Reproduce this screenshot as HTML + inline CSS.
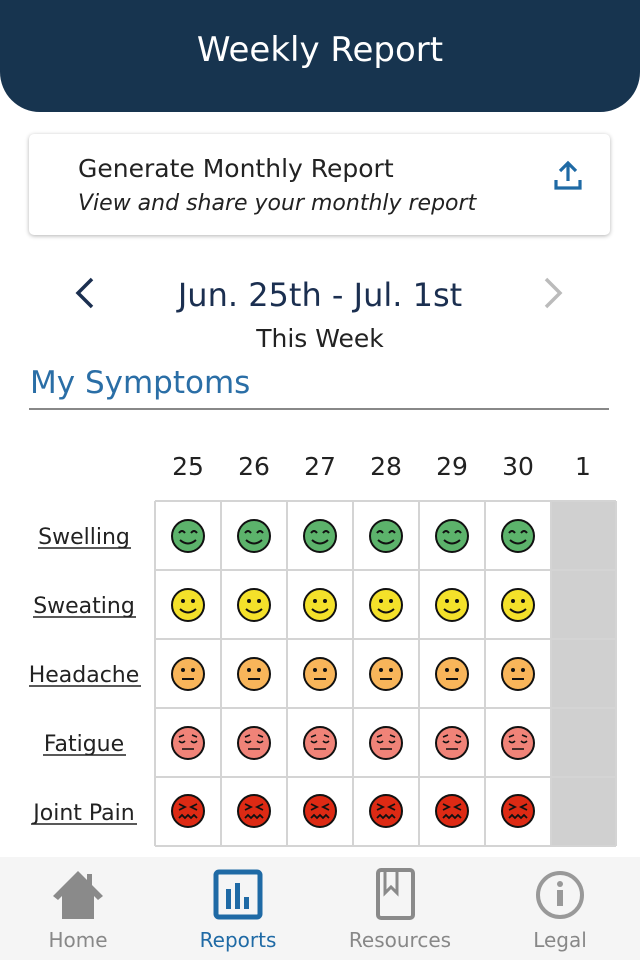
<!DOCTYPE html>
<html><head><meta charset="utf-8"><style>
body{margin:0;width:640px;height:960px;background:#fff;font-family:"DejaVu Sans","Liberation Sans",sans-serif;position:relative;overflow:hidden}
.a{position:absolute;white-space:nowrap}
</style></head><body>
<div class="a" style="left:0;top:0;width:640px;height:112px;background:#17344f;border-radius:0 0 40px 40px"></div>
<div class="a" style="left:0;width:640px;top:30px;text-align:center;color:#fff;font-size:34px">Weekly Report</div>
<div class="a" style="left:29px;top:134px;width:581px;height:101px;background:#fff;border-radius:5px;box-shadow:0 1px 4px rgba(0,0,0,0.3)"></div>
<div class="a" style="left:78px;top:154px;font-size:25px;color:#222">Generate Monthly Report</div>
<div class="a" style="left:78px;top:191px;font-size:22px;font-style:italic;color:#222">View and share your monthly report</div>
<svg class="a" style="left:552px;top:160px" width="32" height="32" viewBox="0 0 32 32"><path d="M16 3V21M8 11L16 3L24 11M4 20V28H28V20" fill="none" stroke="#1f6aa5" stroke-width="3.2"/></svg>
<svg class="a" style="left:70px;top:276px" width="28" height="36"><path d="M22 3L8 17L22 31" fill="none" stroke="#1b2f50" stroke-width="3.5"/></svg>
<svg class="a" style="left:540px;top:276px" width="28" height="36"><path d="M6 3L20 17L6 31" fill="none" stroke="#bbb" stroke-width="3.5"/></svg>
<div class="a" style="left:0;width:640px;top:276px;text-align:center;font-size:32px;color:#1b2f50">Jun. 25th - Jul. 1st</div>
<div class="a" style="left:0;width:640px;top:324px;text-align:center;font-size:25px;color:#222">This Week</div>
<div class="a" style="left:30px;top:365px;font-size:31px;color:#2a6ea6">My Symptoms</div>
<div class="a" style="left:29px;top:408px;width:580px;height:2px;background:#888"></div>
<svg class="a" style="left:0;top:440px" width="640" height="420">
<g font-family="DejaVu Sans,Liberation Sans,sans-serif" font-size="25" fill="#222" text-anchor="middle">
<text x="188" y="35">25</text><text x="254" y="35">26</text><text x="320" y="35">27</text><text x="386" y="35">28</text><text x="452" y="35">29</text><text x="518" y="35">30</text><text x="583" y="35">1</text>
</g>
<g font-family="DejaVu Sans,Liberation Sans,sans-serif" font-size="22" fill="#222" text-anchor="middle">
<text x="84" y="104">Swelling</text><text x="84" y="173">Sweating</text><text x="84" y="242">Headache</text><text x="84" y="311">Fatigue</text><text x="84" y="380">Joint Pain</text>
</g>
<g fill="none" stroke="#222" stroke-width="1.5">
<line x1="38" y1="108" x2="131" y2="108"/><line x1="33" y1="177" x2="136" y2="177"/><line x1="29" y1="246" x2="141" y2="246"/><line x1="43" y1="315" x2="126" y2="315"/><line x1="31" y1="384" x2="137" y2="384"/>
</g>
<rect x="551" y="61" width="65" height="345" fill="#d0d0d0"/>
<g stroke="#d4d4d4" stroke-width="2">
<line x1="155" y1="61" x2="616" y2="61"/><line x1="155" y1="130" x2="616" y2="130"/><line x1="155" y1="199" x2="616" y2="199"/><line x1="155" y1="268" x2="616" y2="268"/><line x1="155" y1="337" x2="616" y2="337"/><line x1="155" y1="406" x2="616" y2="406"/>
<line x1="155" y1="61" x2="155" y2="406"/><line x1="221" y1="61" x2="221" y2="406"/><line x1="287" y1="61" x2="287" y2="406"/><line x1="353" y1="61" x2="353" y2="406"/><line x1="419" y1="61" x2="419" y2="406"/><line x1="485" y1="61" x2="485" y2="406"/><line x1="551" y1="61" x2="551" y2="406"/><line x1="616" y1="61" x2="616" y2="406"/>
</g>
<defs>
<g id="g1"><circle r="16" fill="#5cb36b" stroke="#111" stroke-width="2"/><path d="M-9-3Q-6-7-3-3M3-3Q6-7 9-3M-8 4Q0 11 8 4" fill="none" stroke="#111" stroke-width="2"/></g>
<g id="g2"><circle r="16" fill="#f4e12a" stroke="#111" stroke-width="2"/><circle cx="-5" cy="-4" r="2" fill="#111"/><circle cx="5" cy="-4" r="2" fill="#111"/><path d="M-8 4Q0 11 8 4" fill="none" stroke="#111" stroke-width="2"/></g>
<g id="g3"><circle r="16" fill="#f8b55a" stroke="#111" stroke-width="2"/><circle cx="-5" cy="-4" r="2" fill="#111"/><circle cx="5" cy="-4" r="2" fill="#111"/><path d="M-6 5H6" stroke="#111" stroke-width="2"/></g>
<g id="g4"><circle r="16" fill="#f08378" stroke="#111" stroke-width="2"/><path d="M-9-6L-4-8M9-6L4-8M-9-2Q-6 1-3-2M3-2Q6 1 9-2M-6 6H6" fill="none" stroke="#111" stroke-width="1.6"/></g>
<g id="g5"><circle r="16" fill="#dd2a14" stroke="#111" stroke-width="2"/><path d="M-9-7L-3-4L-9-1M9-7L3-4L9-1M-9 7L-6 4L-3 7L0 4L3 7L6 4L9 7" fill="none" stroke="#111" stroke-width="1.8"/></g>
</defs>
<g>
<use href="#g1" x="188" y="96"/><use href="#g1" x="254" y="96"/><use href="#g1" x="320" y="96"/><use href="#g1" x="386" y="96"/><use href="#g1" x="452" y="96"/><use href="#g1" x="518" y="96"/>
<use href="#g2" x="188" y="165"/><use href="#g2" x="254" y="165"/><use href="#g2" x="320" y="165"/><use href="#g2" x="386" y="165"/><use href="#g2" x="452" y="165"/><use href="#g2" x="518" y="165"/>
<use href="#g3" x="188" y="234"/><use href="#g3" x="254" y="234"/><use href="#g3" x="320" y="234"/><use href="#g3" x="386" y="234"/><use href="#g3" x="452" y="234"/><use href="#g3" x="518" y="234"/>
<use href="#g4" x="188" y="303"/><use href="#g4" x="254" y="303"/><use href="#g4" x="320" y="303"/><use href="#g4" x="386" y="303"/><use href="#g4" x="452" y="303"/><use href="#g4" x="518" y="303"/>
<use href="#g5" x="188" y="371"/><use href="#g5" x="254" y="371"/><use href="#g5" x="320" y="371"/><use href="#g5" x="386" y="371"/><use href="#g5" x="452" y="371"/><use href="#g5" x="518" y="371"/>
</g>
</svg>
<div class="a" style="left:0;top:857px;width:640px;height:103px;background:#f5f5f5"></div>
<svg class="a" style="left:0;top:857px" width="640" height="103">
<path d="M78 14L53 39L58 43L62 39V62H94V39L98 43L103 39L92 28V17H87V23Z" fill="#8a8a8a"/>
<rect x="216" y="15" width="44" height="45" rx="3" fill="none" stroke="#1f6aa5" stroke-width="5"/>
<rect x="226" y="32" width="5" height="20" fill="#1f6aa5"/><rect x="235" y="26" width="5" height="26" fill="#1f6aa5"/><rect x="244" y="40" width="5" height="12" fill="#1f6aa5"/>
<rect x="378" y="13" width="35" height="48" rx="3" fill="none" stroke="#8a8a8a" stroke-width="4"/>
<path d="M385 15V36L391 30L397 36V15" fill="none" stroke="#8a8a8a" stroke-width="3"/>
<circle cx="560" cy="38" r="22" fill="none" stroke="#999" stroke-width="4"/>
<circle cx="560" cy="27" r="3" fill="#999"/><rect x="557" y="33" width="6" height="16" fill="#999"/>
<g font-family="DejaVu Sans,Liberation Sans,sans-serif" font-size="20" text-anchor="middle" fill="#888">
<text x="78" y="90">Home</text><text x="238" y="90" fill="#1f6aa5">Reports</text><text x="400" y="90">Resources</text><text x="560" y="90">Legal</text>
</g>
</svg>
</body></html>
